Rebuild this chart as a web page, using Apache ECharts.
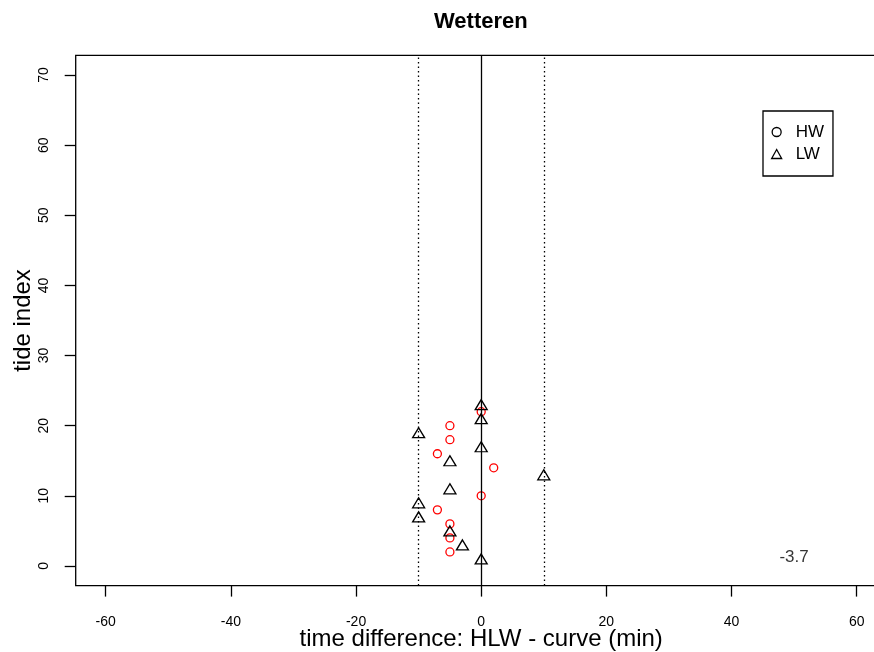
<!DOCTYPE html>
<html>
<head>
<meta charset="utf-8">
<script src="https://cdn.jsdelivr.net/npm/echarts@6/dist/echarts.min.js"></script>
<style>
html,body{margin:0;padding:0;background:#fff;}
#chart{width:874px;height:652px;}
</style>
</head>
<body>
<div id="chart"></div>
<script>
// Data
const chartTitle = 'Wetteren';
const xTicks = [-60, -40, -20, 0, 20, 40, 60];
const yTicks = [0, 10, 20, 30, 40, 50, 60, 70];
const hwX = [0, -5, -5, -7, 2, 0, -7, -5, -5, -5];
const hwY = [22, 20, 18, 16, 14, 10, 8, 6, 4, 2];
const lwX = [0, 0, -10, 0, -5, 10, -5, -10, -10, -5, -3, 0];
const lwY = [23, 21, 19, 17, 15, 13, 11, 9, 7, 5, 3, 1];
const solidLines = [0];
const dottedLines = [-10, 10];
const annotation = { x: 50, y: 1.3, text: '-3.7' };

const FONT = 'Liberation Sans, Arial, sans-serif';
const chart = echarts.init(document.getElementById('chart'), null, { renderer: 'canvas' });

const hwData = hwX.map((x, i) => [x, hwY[i]]);
const lwData = lwX.map((x, i) => [x, lwY[i]]);

chart.setOption({
  animation: false,
  backgroundColor: '#fff',
  title: {
    text: chartTitle,
    left: 429,
    top: 6,
    textStyle: { fontFamily: FONT, fontSize: 22, fontWeight: 'bold', color: '#000' }
  },
  grid: {
    left: 75.7, width: 811, top: 55.4, height: 530.2,
    containLabel: false,
    outerBoundsMode: 'none',
    show: true, borderColor: '#000', borderWidth: 1.3, backgroundColor: 'transparent'
  },
  legend: {
    orient: 'vertical',
    left: 763, top: 111,
    padding: [12, 9, 13, 8],
    itemGap: 4,
    itemWidth: 10, itemHeight: 9,
    borderColor: '#000', borderWidth: 1.3,
    textStyle: { fontFamily: FONT, fontSize: 17, color: '#000', lineHeight: 18, padding: [0, 0, 0, 9] },
    data: [
      { name: 'HW', icon: 'circle', itemStyle: { color: 'rgba(0,0,0,0)', borderColor: '#000', borderWidth: 1.3 } },
      { name: 'LW', icon: 'triangle', itemStyle: { color: 'rgba(0,0,0,0)', borderColor: '#000', borderWidth: 1.3 } }
    ]
  },
  xAxis: {
    type: 'value', min: -64.8, max: 64.8,
    name: 'time difference: HLW - curve (min)',
    nameLocation: 'middle', nameGap: 42, nameMoveOverlap: false,
    nameTextStyle: { fontFamily: FONT, fontSize: 24, color: '#000' },
    axisLine: { show: false, onZero: false },
    axisTick: { show: true, length: 11, customValues: xTicks, lineStyle: { color: '#000', width: 1.3 } },
    axisLabel: { customValues: xTicks, margin: 30, fontFamily: FONT, fontSize: 14, color: '#000' },
    splitLine: { show: false }
  },
  yAxis: {
    type: 'value', min: -2.8, max: 72.8,
    name: 'tide index',
    nameLocation: 'middle', nameGap: 40, nameMoveOverlap: false,
    nameTextStyle: { fontFamily: FONT, fontSize: 24, color: '#000' },
    axisLine: { show: false, onZero: false },
    axisTick: { show: true, length: 11, customValues: yTicks, lineStyle: { color: '#000', width: 1.3 } },
    axisLabel: { customValues: yTicks, rotate: 90, margin: 25, fontFamily: FONT, fontSize: 14, color: '#000' },
    splitLine: { show: false }
  },
  series: [
    {
      name: 'HW', type: 'scatter', data: hwData,
      symbol: 'circle', symbolSize: 8,
      itemStyle: { color: 'rgba(0,0,0,0)', borderColor: '#ff0000', borderWidth: 1.3, opacity: 1 },
      z: 3
    },
    {
      name: 'LW', type: 'scatter', data: lwData,
      symbol: 'triangle', symbolSize: [12, 10],
      itemStyle: { color: 'rgba(0,0,0,0)', borderColor: '#000', borderWidth: 1.3, opacity: 1 },
      z: 4,
      markLine: {
        silent: true, symbol: 'none', animation: false,
        label: { show: false },
        data: solidLines.map(v => ({ xAxis: v, lineStyle: { type: 'solid', color: '#000', width: 1.3 } }))
          .concat(dottedLines.map(v => ({ xAxis: v, lineStyle: { type: [1.5, 3], color: '#000', width: 1.3 } })))
      }
    },
    {
      name: 'annotation', type: 'scatter', data: [[annotation.x, annotation.y]],
      symbolSize: 0, silent: true,
      label: { show: true, position: 'inside', formatter: annotation.text, fontFamily: FONT, fontSize: 17, color: '#000', textBorderWidth: 0 }
    }
  ]
});
</script>
</body>
</html>
